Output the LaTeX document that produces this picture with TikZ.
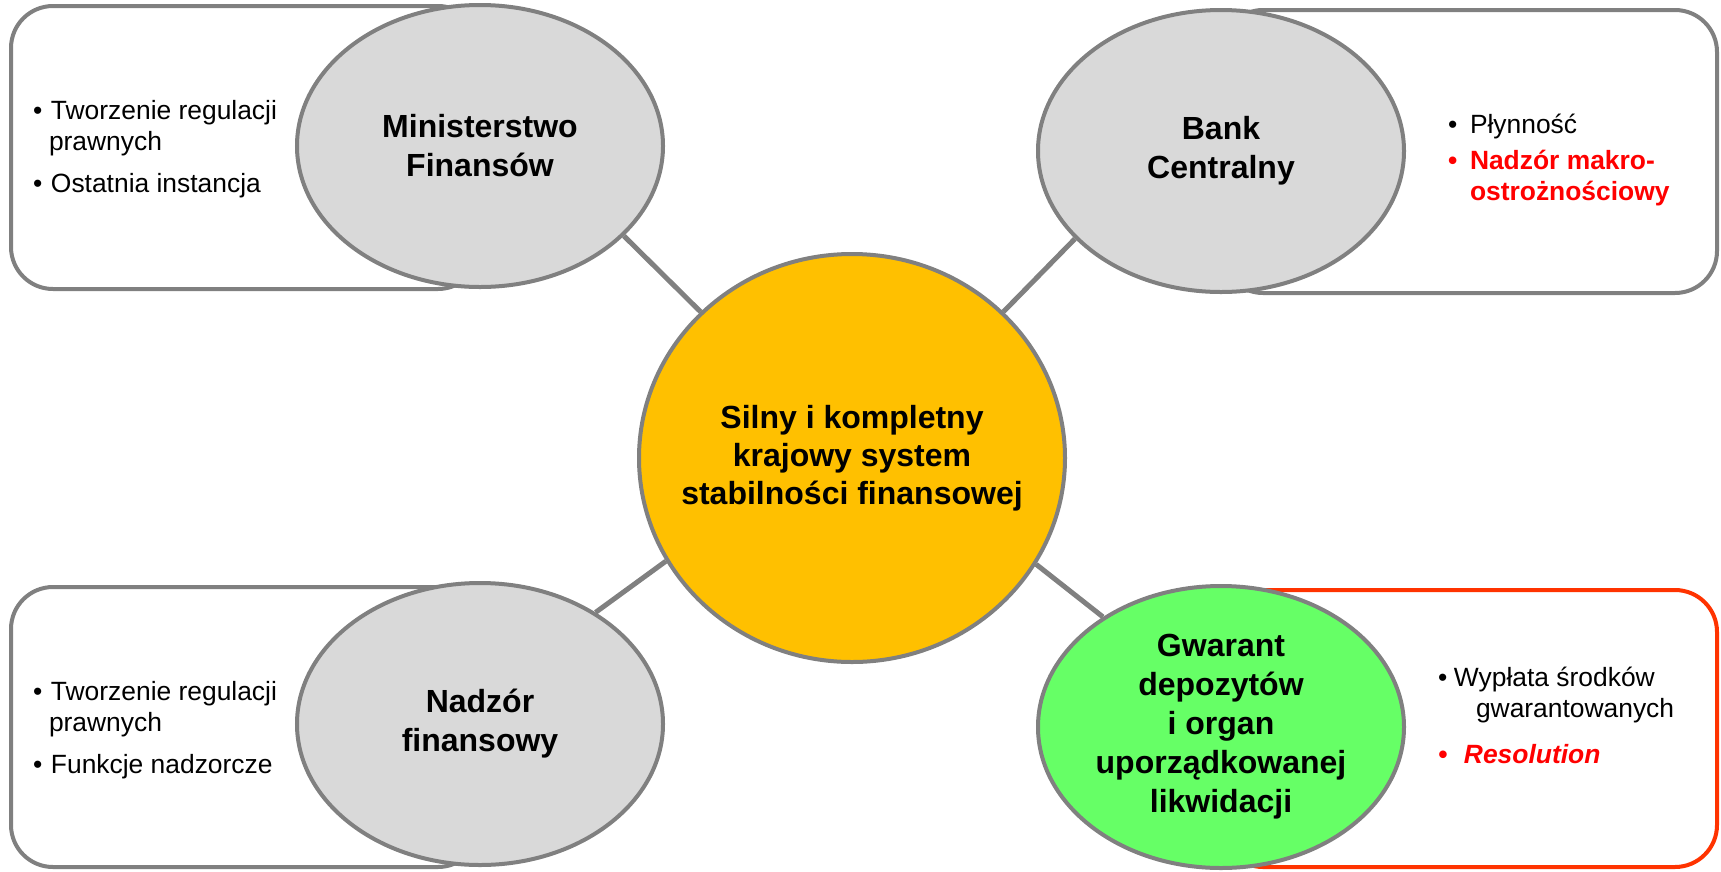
\documentclass[tikz,border=0pt]{standalone}
\usepackage{fontspec}
\setmainfont{Liberation Sans}
\usetikzlibrary{shapes.geometric}

\definecolor{edgegray}{HTML}{808080}
\definecolor{bodygray}{HTML}{D9D9D9}
\definecolor{sysorange}{HTML}{FFC000}
\definecolor{gwgreen}{HTML}{66FF66}
\definecolor{boxred}{HTML}{FF3300}
\definecolor{notered}{HTML}{FF0000}

\newcommand{\itm}[2][9bp]{\makebox[#1][l]{\textbullet}#2}

\begin{document}
\begin{tikzpicture}[x=0.5bp, y=-0.5bp,
                    line width=2bp,
                    ]
    \tikzstyle{card}=[draw=edgegray, line width=2bp, rounded corners=21bp, fill=white]
    \tikzstyle{actor}=[ellipse, draw=edgegray, line width=2bp, fill=bodygray, minimum width=183bp, minimum height=141bp, inner sep=0pt, align=center, font=\fontsize{16bp}{19.5bp}\selectfont\bfseries]
    \tikzstyle{hub}=[actor, fill=sysorange, minimum width=213bp, minimum height=204bp];
    \tikzstyle{hubtext}=[align=center, inner sep=0pt, font=\fontsize{16bp}{19bp}\selectfont\bfseries];
    \tikzstyle{notes}=[align=left, anchor=north west, inner sep=0pt, font=\fontsize{13.2bp}{15.5bp}\selectfont];
    \tikzstyle{link}=[draw=edgegray, line width=2.5bp];

    \useasboundingbox (0,0) rectangle (1721,871);

    \draw[card] (11,6) rectangle (480,289);
    \draw[card] (1221,10) rectangle (1717,293);
    \draw[card] (11,587) rectangle (480,867);
    \draw[card, draw=boxred] (1221,590) rectangle (1717,867);

    \node[hub] (sys) at (852,458) {};
    \node[hubtext] (systext) at (sys.center) {Silny i kompletny\\krajowy system\\stabilności finansowej};

    \node[actor] (mf) at (480,146) {Ministerstwo\\Finansów};
    \node[actor] (bc) at (1221,151) {Bank\\Centralny};
    \node[actor] (nf) at (480,724) {Nadzór\\finansowy};
    \node[actor, fill=gwgreen] (gd) at (1221,727) {Gwarant\\depozytów\\i organ\\uporządkowanej\\likwidacji};

    \draw[link] (mf.-32) -- (sys.136);
    \draw[link] (bc.-149) -- (sys.44);
    \draw[link] (nf.44) -- (sys.-151);
    \draw[link] (gd.137) -- (sys.-30);

    \node[notes] (mfnotes) at (31,98) {\itm{Tworzenie regulacji}\\\hspace*{8bp}prawnych\\[5.5bp]\itm{Ostatnia instancja}};
    \node[notes] (bcnotes) at (1446,112) {\itm[11bp]{Płynność}\\[2.5bp]{\color{notered}\bfseries\itm[11bp]{Nadzór makro-}}\\\hspace*{11bp}{\color{notered}\bfseries ostrożnościowy}};
    \node[notes] (nfnotes) at (31,679) {\itm{Tworzenie regulacji}\\\hspace*{8bp}prawnych\\[5.5bp]\itm{Funkcje nadzorcze}};
    \node[notes] (gdnotes) at (1436,665) {\itm[8bp]{Wypłata środków}\\\hspace*{19bp}gwarantowanych\\[7.5bp]{\color{notered}\bfseries\itshape\itm[13bp]{Resolution}}};
\end{tikzpicture}
\end{document}
